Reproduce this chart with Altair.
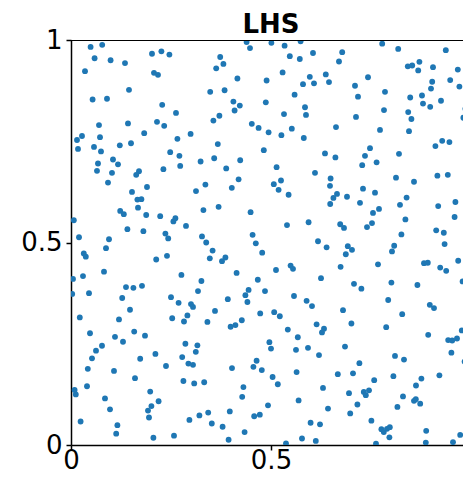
import altair as alt
import pandas as pd

# Sample points, grouped by region of the unit square
top_left = [(0.049,0.983),(0.078,0.988),(0.059,0.955),(0.099,0.950),(0.135,0.943),(0.2025,0.966),(0.226,0.972),(0.246,0.964),(0.035,0.923),(0.2075,0.919),(0.2175,0.914),(0.145,0.877),(0.054,0.853),(0.09,0.855),(0.228,0.840),(0.2625,0.820),(0.07,0.790),(0.1425,0.794),(0.215,0.798),(0.233,0.788),(0.183,0.770),(0.0275,0.763),(0.015,0.753),(0.0725,0.760),(0.299,0.768),(0.266,0.756),(0.0175,0.731),(0.0575,0.736),(0.075,0.725),(0.122,0.740),(0.15,0.745),(0.248,0.723),(0.271,0.714),(0.105,0.705),(0.0675,0.695),(0.1175,0.693),(0.324,0.700),(0.273,0.689),(0.065,0.677),(0.1025,0.672),(0.17,0.676),(0.231,0.681),(0.163,0.667)]
top_mid = [(0.439,0.995),(0.4475,0.980),(0.501,0.993),(0.534,0.986),(0.574,0.997),(0.373,0.958),(0.381,0.941),(0.363,0.930),(0.547,0.960),(0.572,0.953),(0.605,0.968),(0.416,0.905),(0.489,0.900),(0.529,0.920),(0.597,0.909),(0.58,0.891),(0.6075,0.893),(0.637,0.915),(0.645,0.896),(0.348,0.872),(0.384,0.876),(0.559,0.865),(0.406,0.848),(0.422,0.838),(0.409,0.826),(0.487,0.846),(0.585,0.834),(0.5875,0.815),(0.371,0.813),(0.356,0.801),(0.5325,0.817),(0.452,0.793),(0.469,0.783),(0.494,0.772),(0.526,0.765),(0.552,0.781),(0.582,0.758),(0.367,0.743),(0.482,0.728),(0.635,0.720),(0.358,0.708),(0.423,0.703),(0.388,0.683),(0.514,0.686),(0.61,0.672)]
top_right = [(0.778,0.991),(0.818,0.978),(0.937,0.975),(0.678,0.970),(0.67,0.947),(0.842,0.935),(0.853,0.937),(0.871,0.946),(0.868,0.925),(0.905,0.933),(0.967,0.927),(0.7425,0.908),(0.948,0.901),(0.903,0.897),(0.9,0.880),(0.971,0.885),(0.9975,0.883),(0.71,0.887),(0.785,0.872),(0.7175,0.860),(0.848,0.858),(0.8775,0.863),(0.989,0.867),(0.925,0.850),(0.88,0.843),(0.898,0.835),(0.7825,0.827),(0.843,0.822),(0.986,0.830),(0.7125,0.810),(0.851,0.805),(0.981,0.808),(0.993,0.802),(0.6625,0.785),(0.7725,0.778),(0.845,0.775),(0.928,0.751),(0.946,0.748),(0.911,0.738),(0.7475,0.733),(0.735,0.714),(0.82,0.719),(0.661,0.710),(0.764,0.698),(0.728,0.691)]
mid_left = [(0.0925,0.648),(0.1525,0.625),(0.19,0.637),(0.166,0.606),(0.176,0.607),(0.1675,0.586),(0.3125,0.627),(0.123,0.578),(0.132,0.570),(0.188,0.568),(0.223,0.565),(0.256,0.552),(0.261,0.560),(0.007,0.555),(0.2875,0.541),(0.141,0.533),(0.181,0.528),(0.236,0.522),(0.243,0.510),(0.02,0.513),(0.095,0.508),(0.3275,0.515),(0.0875,0.486),(0.032,0.473),(0.037,0.465),(0.213,0.458),(0.24,0.467),(0.0825,0.428),(0.005,0.410),(0.03,0.417),(0.276,0.420),(0.326,0.405),(0.1375,0.390),(0.156,0.388),(0.1775,0.393),(0.003,0.373),(0.045,0.375),(0.3175,0.380),(0.128,0.363),(0.25,0.365),(0.269,0.351),(0.3,0.348),(0.305,0.341)]
center = [(0.336,0.643),(0.402,0.635),(0.419,0.656),(0.507,0.644),(0.525,0.653),(0.519,0.630),(0.544,0.618),(0.649,0.658),(0.6475,0.640),(0.648,0.595),(0.656,0.610),(0.331,0.580),(0.369,0.588),(0.449,0.575),(0.54,0.543),(0.594,0.550),(0.338,0.500),(0.454,0.519),(0.462,0.498),(0.6175,0.503),(0.639,0.488),(0.354,0.480),(0.478,0.475),(0.347,0.461),(0.3775,0.454),(0.386,0.463),(0.549,0.443),(0.555,0.435),(0.5125,0.432),(0.414,0.425),(0.625,0.412),(0.467,0.408),(0.444,0.383),(0.485,0.380),(0.436,0.370),(0.392,0.360),(0.441,0.353),(0.5575,0.368),(0.589,0.356),(0.6025,0.343)]
mid_right = [(0.8125,0.660),(0.916,0.665),(0.942,0.667),(0.8575,0.650),(0.665,0.620),(0.73,0.633),(0.76,0.623),(0.69,0.613),(0.7225,0.598),(0.839,0.611),(0.8225,0.593),(0.918,0.590),(0.961,0.600),(0.77,0.583),(0.755,0.573),(0.959,0.563),(0.836,0.557),(0.673,0.545),(0.6825,0.536),(0.74,0.538),(0.7525,0.548),(0.913,0.530),(0.932,0.524),(0.826,0.520),(0.9975,0.504),(0.934,0.496),(0.692,0.491),(0.7025,0.482),(0.687,0.471),(0.808,0.492),(0.8025,0.478),(0.968,0.455),(0.7675,0.446),(0.8825,0.449),(0.892,0.450),(0.674,0.440),(0.923,0.438),(0.938,0.430),(0.997,0.417),(0.979,0.404),(0.7075,0.398),(0.726,0.386),(0.801,0.401),(0.866,0.395),(0.793,0.358),(0.897,0.346),(0.9075,0.338)]
bottom_left = [(0.1475,0.334),(0.022,0.315),(0.12,0.310),(0.253,0.313),(0.2825,0.305),(0.291,0.320),(0.0475,0.276),(0.11,0.267),(0.13,0.255),(0.158,0.280),(0.185,0.270),(0.0775,0.245),(0.0625,0.233),(0.0525,0.214),(0.173,0.213),(0.211,0.225),(0.286,0.250),(0.316,0.246),(0.312,0.230),(0.278,0.217),(0.2935,0.201),(0.305,0.198),(0.2375,0.195),(0.042,0.188),(0.1075,0.183),(0.16,0.165),(0.281,0.158),(0.308,0.152),(0.04,0.145),(0.009,0.136),(0.012,0.125),(0.198,0.132),(0.085,0.115),(0.219,0.108),(0.201,0.096),(0.1925,0.085),(0.195,0.068),(0.0975,0.088),(0.321,0.073),(0.296,0.062),(0.024,0.058),(0.116,0.049),(0.113,0.028),(0.206,0.018),(0.2575,0.023)]
bottom_mid = [(0.36,0.331),(0.341,0.304),(0.473,0.325),(0.508,0.328),(0.522,0.318),(0.399,0.292),(0.411,0.296),(0.427,0.308),(0.542,0.285),(0.567,0.266),(0.614,0.298),(0.6325,0.287),(0.6275,0.278),(0.496,0.254),(0.5,0.238),(0.5625,0.235),(0.5925,0.240),(0.62,0.222),(0.464,0.208),(0.456,0.193),(0.477,0.185),(0.4025,0.190),(0.564,0.180),(0.333,0.155),(0.504,0.168),(0.517,0.150),(0.431,0.143),(0.63,0.141),(0.428,0.119),(0.569,0.110),(0.4925,0.098),(0.6425,0.090),(0.343,0.080),(0.397,0.083),(0.458,0.071),(0.472,0.075),(0.352,0.053),(0.379,0.045),(0.434,0.032),(0.394,0.013),(0.599,0.055),(0.6225,0.051),(0.5375,0.004),(0.5775,0.016),(0.612,0.010)]
bottom_right = [(0.68,0.333),(0.828,0.323),(0.701,0.300),(0.788,0.291),(0.977,0.283),(0.893,0.272),(0.943,0.259),(0.953,0.258),(0.965,0.263),(0.951,0.228),(0.685,0.243),(0.81,0.220),(0.8325,0.211),(0.984,0.206),(0.721,0.202),(0.667,0.175),(0.705,0.177),(0.806,0.170),(0.921,0.172),(0.758,0.160),(0.876,0.164),(0.8625,0.147),(0.695,0.128),(0.732,0.131),(0.737,0.123),(0.745,0.135),(0.83,0.120),(0.716,0.100),(0.8575,0.109),(0.862,0.113),(0.873,0.102),(0.816,0.094),(0.698,0.078),(0.751,0.060),(0.992,0.065),(0.776,0.039),(0.782,0.032),(0.79,0.040),(0.797,0.044),(0.796,0.019),(0.888,0.035),(0.973,0.025),(0.7625,0.003),(0.887,0.006),(0.955,0.007)]

tick_values = [0, 0.5, 1]
title_text = "LHS"

points = (top_left + top_mid + top_right + mid_left + center + mid_right
          + bottom_left + bottom_mid + bottom_right)
df = pd.DataFrame(points, columns=["x", "y"])

# The reference is cropped at the window's right edge (just before x = 1),
# so the visible x range ends slightly short of 1.
x_scale = alt.Scale(domain=[0, 0.98], nice=False, zero=False)
y_scale = alt.Scale(domain=[0, 1], nice=False, zero=False)

axis_common = dict(
    values=tick_values,
    format="~g",
    grid=False,
    title=None,
    domainColor="black",
    domainWidth=1.5,
    tickColor="black",
    tickWidth=1.5,
    tickSize=5,
    labelFont="DejaVu Sans",
    labelFontSize=26,
    labelColor="black",
    labelFlush=False,
)

base = alt.Chart(df)

dots = base.mark_circle(size=34, color="#1f77b4", opacity=1, clip=True).encode(
    x=alt.X("x:Q", scale=x_scale,
            axis=alt.Axis(**axis_common, labelBaseline="alphabetic", labelPadding=18)),
    y=alt.Y("y:Q", scale=y_scale, axis=alt.Axis(**axis_common, labelPadding=4)),
)

top_spine = base.mark_rule(color="black", strokeWidth=1.5, clip=True).encode(
    x=alt.datum(0, scale=x_scale),
    x2=alt.datum(1),
    y=alt.datum(1, scale=y_scale),
)

chart = alt.layer(dots, top_spine).properties(
    width=392,
    height=405,
    title=alt.TitleParams(title_text, font="DejaVu Sans", fontSize=26,
                          fontWeight="bold", color="black", anchor="middle",
                          frame="group", dx=4, offset=-11),
    autosize=alt.AutoSizeParams(type="none"),
    padding={"left": 63, "top": 32, "right": 0, "bottom": 24},
).configure_view(
    stroke=None
)

chart.save("out.html", embed_options={"renderer": "svg", "actions": False})
